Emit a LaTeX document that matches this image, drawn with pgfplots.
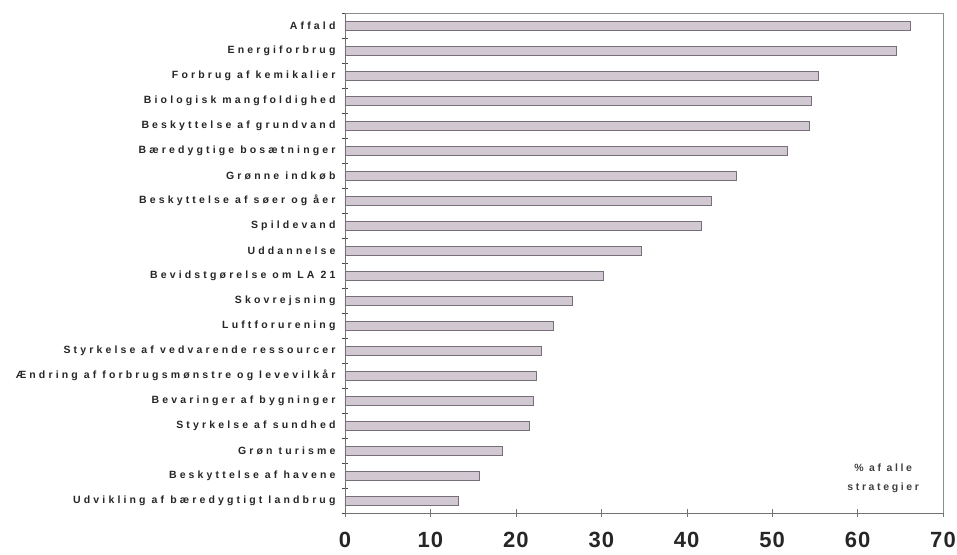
\documentclass[border=0pt]{standalone}
\usepackage{fontspec}
\setmainfont{Liberation Sans}
\usepackage{pgfplots}
\pgfplotsset{compat=1.18}
\definecolor{barfill}{RGB}{210,200,210}
\definecolor{baredge}{RGB}{118,110,120}
\newcommand{\lab}{\fontsize{10.5}{12}\selectfont\bfseries\addfontfeatures{LetterSpace=30}}
\begin{document}
\begin{tikzpicture}
\begin{axis}[
  xbar,
  scale only axis,
  width=598pt, height=500pt,
  xmin=0, xmax=70,
  ymin=-0.5, ymax=19.5,
  y dir=reverse,
  bar width=9pt,
  xtick={0,10,...,70},
  ytick={0,...,19},
  yticklabels={Affald, Energiforbrug, Forbrug af kemikalier, Biologisk mangfoldighed,
    Beskyttelse af grundvand, Bæredygtige bosætninger, Grønne indkøb,
    Beskyttelse af søer og åer, Spildevand, Uddannelse, Bevidstgørelse om LA 21,
    Skovrejsning, Luftforurening, Styrkelse af vedvarende ressourcer,
    Ændring af forbrugsmønstre og levevilkår, Bevaringer af bygninger,
    Styrkelse af sundhed, Grøn turisme, Beskyttelse af havene,
    Udvikling af bæredygtigt landbrug},
  y tick label style={font=\lab, text=black!85, xshift=-2pt},
  x tick label style={font=\fontsize{22}{24}\selectfont\bfseries\addfontfeatures{LetterSpace=5}, text=black!85, yshift=-12pt},
  /pgf/number format/assume math mode=true,
  major y tick style={draw=none},
  minor ytick={-0.5,0.5,...,19.5},
  minor tick length=6pt,
  major tick length=8pt,
  tick align=center,
  x tick style={black!55},
  minor y tick style={black!70},
  axis line style={black!55},
  axis x line*=bottom,
  axis y line*=left,
  clip=false,
]
\addplot[fill=barfill, draw=baredge, line width=0.8pt] coordinates {
  (66.2,0) (64.5,1) (55.4,2) (54.6,3) (54.4,4) (51.8,5) (45.8,6)
  (42.9,7) (41.7,8) (34.7,9) (30.3,10) (26.6,11) (24.4,12)
  (23.0,13) (22.4,14) (22.0,15) (21.6,16) (18.4,17) (15.7,18) (13.3,19)};
\draw[black!45] (axis cs:0,-0.5) -- (axis cs:70,-0.5) -- (axis cs:70,19.5);
\node[align=center, font=\fontsize{10.5}{19}\selectfont\bfseries\addfontfeatures{LetterSpace=25}, text=black!75]
  at (axis cs:63.0,18.1) {\% af alle\\strategier};
\end{axis}
\pgfresetboundingbox
\useasboundingbox ([xshift=-345pt,yshift=-41pt]current axis.south west)
  rectangle ([xshift=14pt,yshift=13pt]current axis.north east);
\end{tikzpicture}
\end{document}
